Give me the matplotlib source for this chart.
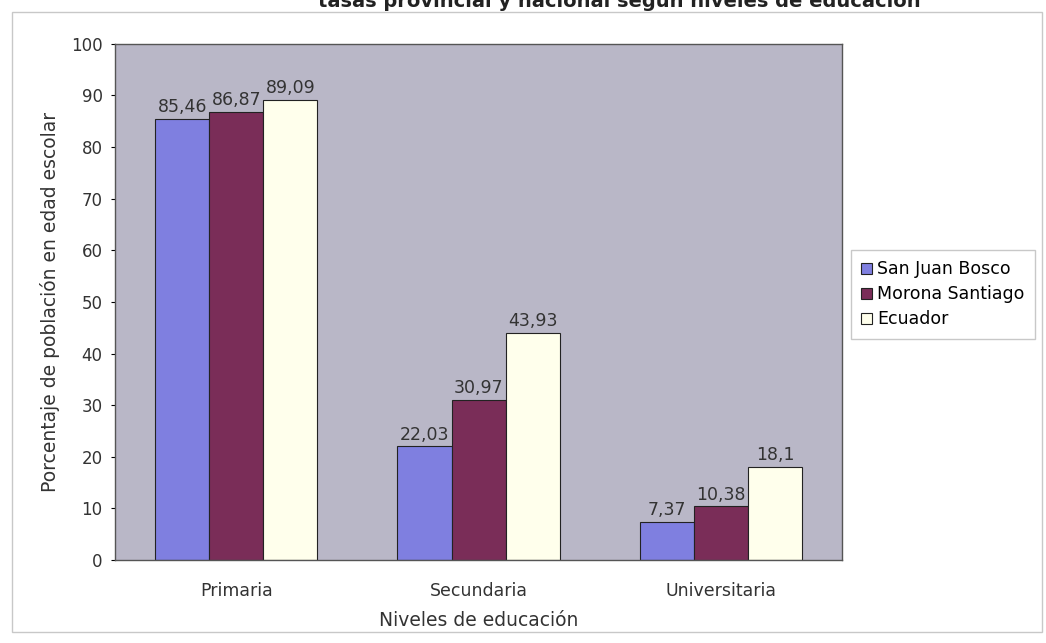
import numpy as np
import matplotlib.pyplot as plt
from matplotlib.patches import Rectangle

# Datos
niveles = ['Primaria', 'Secundaria', 'Universitaria']
san_juan_bosco = [85.46, 22.03, 7.37]
morona_santiago = [86.87, 30.97, 10.38]
ecuador = [89.09, 43.93, 18.1]
series = ['San Juan Bosco', 'Morona Santiago', 'Ecuador']
colores = ['#7f7fe0', '#7a2d58', '#ffffec']

fig = plt.figure(figsize=(10.46, 6.43), dpi=100)
ax = fig.add_axes([0.110, 0.129, 0.695, 0.803])
ax.set_facecolor('#b9b7c7')

# marco exterior del área del gráfico
fig.patches.append(Rectangle((12 / 1046, 11 / 643), 1030 / 1046, 620 / 643,
                             transform=fig.transFigure, fill=False,
                             edgecolor='#c8c8c8', linewidth=1))

# título cortado en la parte superior (como en la imagen original)
fig.text(318 / 1046, 1 - 7 / 643, 'tasas provincial y nacional según niveles de educación',
         fontsize=14, fontweight='bold', va='baseline', ha='left', color='#222222')

x = np.arange(len(niveles))
ancho = 0.223
for i, (nombre, valores, color) in enumerate(zip(series, [san_juan_bosco, morona_santiago, ecuador], colores)):
    pos = x + (i - 1) * ancho
    ax.bar(pos, valores, ancho, color=color, edgecolor='#222222',
           linewidth=0.8, label=nombre)
    for xb, v in zip(pos, valores):
        txt = f'{v:g}'.replace('.', ',')
        ax.annotate(txt, (xb, v), xytext=(0, 2), textcoords='offset points',
                    ha='center', va='bottom', fontsize=12.5, color='#333333')

ax.set_xlim(-0.5, 2.5)
ax.set_ylim(0, 100)
ax.set_yticks(range(0, 101, 10))
ax.set_xticks(x)
ax.set_xticklabels(niveles, fontsize=12.5, color='#333333')
ax.tick_params(axis='x', length=0, pad=16)
ax.tick_params(axis='y', length=3, labelsize=12, pad=6, labelcolor='#333333')
for s in ax.spines.values():
    s.set_color('#555555')
    s.set_linewidth(1)

ax.set_xlabel('Niveles de educación', fontsize=13.5, labelpad=8, color='#333333')
ax.set_ylabel('Porcentaje de población en edad escolar', fontsize=13.5, labelpad=8,
              color='#333333')

ley = fig.legend(loc='upper left', bbox_to_anchor=(851 / 1046, 1 - 250 / 643),
                 fontsize=12.5, frameon=True, fancybox=False, handlelength=0.6,
                 handleheight=0.6, handletextpad=0.3, borderpad=0.6,
                 labelspacing=0.4, borderaxespad=0)
ley.get_frame().set_edgecolor('#bbbbbb')
ley.get_frame().set_linewidth(1)

plt.savefig('out.png', dpi=100)
